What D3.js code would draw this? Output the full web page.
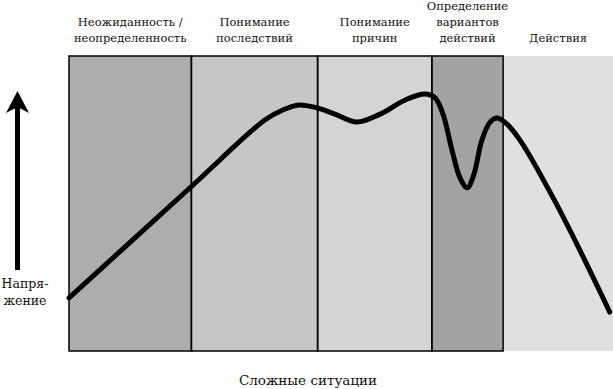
<!doctype html>
<html>
<head>
<meta charset="utf-8" />
<script src="https://d3js.org/d3.v7.min.js"></script>
<style>
  body { margin: 0; background: #fff; }
</style>
</head>
<body>
<div id="chart"></div>
<script>

// stages along the x axis (0..100 of the situation's time)
var stageLabels = [
  ["Неожиданность /", "неопределенность"],
  ["Понимание", "последствий"],
  ["Понимание", "причин"],
  ["Определение", "вариантов", "действий"],
  ["Действия"]
];
var stageBounds = [0, 22.5, 45.7, 66.7, 79.8, 100];

// tension curve (x = time, y = tension)
var curveX = [0, 22.4, 36.0, 39.3, 42.3, 45.6, 48.9, 52.9, 57.2, 61.8, 65.4, 67.3, 68.8, 70.4, 71.9, 73.2, 74.4, 75.9, 77.4, 78.7, 80.1, 82.9, 89.0, 93.9, 99.4];
var curveY = [18.0, 55.6, 78.3, 81.7, 83.4, 82.4, 80.3, 77.6, 80.3, 85.1, 87.1, 85.8, 80.0, 68.1, 58.6, 55.3, 59.7, 71.5, 77.6, 79.0, 77.6, 71.5, 51.9, 34.2, 13.2];

var yLabel = ["Напря-", "жение"];
var xLabel = "Сложные ситуации";

var W = 613, H = 389;
var FONT = "'DejaVu Serif', serif";
var shades = ["#adadad", "#c6c6c6", "#d4d4d4", "#a3a3a3", "#e0e0e0"];

var svg = d3.select("#chart").append("svg").attr("width", W).attr("height", H);

var x = d3.scaleLinear().domain([0, 100]).range([69, 613]);
var y = d3.scaleLinear().domain([0, 100]).range([351, 56]);

var stages = stageLabels.map(function(l, i) {
  return {label: l, x0: stageBounds[i], x1: stageBounds[i + 1], i: i};
});

// background bands
svg.selectAll("rect.band").data(stages).enter().append("rect")
  .attr("class", "band")
  .attr("x", d => x(d.x0))
  .attr("y", y(100))
  .attr("width", d => x(d.x1) - x(d.x0))
  .attr("height", y(0) - y(100))
  .attr("fill", d => shades[d.i]);

// frame: only the first four stages are outlined
var framed = stages.slice(0, 4);
svg.selectAll("rect.frame").data(framed).enter().append("rect")
  .attr("class", "frame")
  .attr("x", d => x(d.x0))
  .attr("y", y(100))
  .attr("width", d => x(d.x1) - x(d.x0))
  .attr("height", y(0) - y(100))
  .attr("fill", "none")
  .attr("stroke", "#000")
  .attr("stroke-width", 1.5);

// stage labels, bottom aligned
svg.selectAll("text.stage").data(stages).enter().append("text")
  .attr("class", "stage")
  .attr("text-anchor", "middle")
  .style("font-family", FONT)
  .style("font-size", "11.5px")
  .style("fill", "#111")
  .each(function(d) {
    var t = d3.select(this), n = d.label.length;
    d.label.forEach(function(s, k) {
      t.append("tspan")
        .attr("x", x((d.x0 + d.x1) / 2))
        .attr("y", 42 - (n - 1 - k) * 16)
        .text(s);
    });
  });

// tension curve
var line = d3.line()
  .x(function(d, i) { return x(curveX[i]); })
  .y(function(d, i) { return y(curveY[i]); })
  .curve(d3.curveCatmullRom.alpha(0.5));

svg.append("path")
  .attr("d", line(curveX))
  .attr("fill", "none")
  .attr("stroke", "#000")
  .attr("stroke-width", 5)
  .attr("stroke-linecap", "round")
  .attr("stroke-linejoin", "round");

// vertical arrow
svg.append("line")
  .attr("x1", 17.5).attr("x2", 17.5)
  .attr("y1", 270).attr("y2", 105)
  .attr("stroke", "#000").attr("stroke-width", 5);
svg.append("path")
  .attr("d", "M17.5,91 L29,113 L17.5,107 L6,113 Z")
  .attr("fill", "#000");

svg.append("text")
  .attr("text-anchor", "middle")
  .style("font-family", FONT)
  .style("font-size", "12.5px")
  .style("fill", "#111")
  .selectAll("tspan").data(yLabel).enter().append("tspan")
  .attr("x", 25)
  .attr("y", (d, i) => 288 + i * 17)
  .text(d => d);

svg.append("text")
  .attr("x", 308)
  .attr("y", 385)
  .attr("text-anchor", "middle")
  .style("font-family", FONT)
  .style("font-size", "13.5px")
  .style("fill", "#111")
  .text(xLabel);

</script>
</body>
</html>
